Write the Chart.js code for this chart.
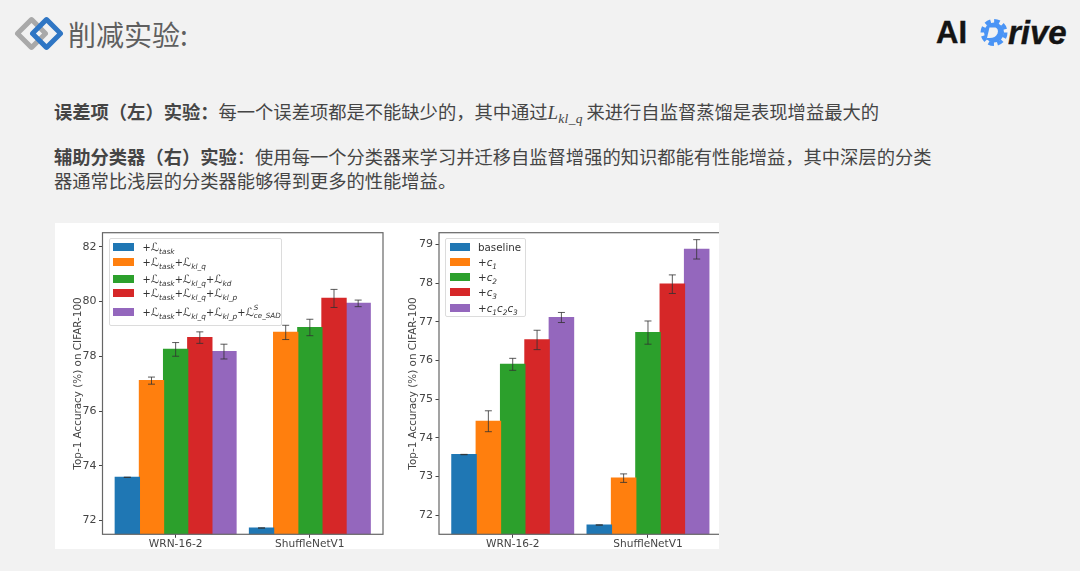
<!DOCTYPE html>
<html>
<head>
<meta charset="utf-8">
<title>削减实验</title>
<script src="https://cdn.jsdelivr.net/npm/chart.js@4"></script>
<style>
  html, body { margin: 0; padding: 0; background: #f2f2f2; }
  #slide { position: relative; width: 1080px; height: 571px; overflow: hidden; background: #f2f2f2;
           font-family: "Noto Sans CJK SC", sans-serif; filter: blur(0.6px); }
  .abs { position: absolute; }
  .diamond { position: absolute; width: 15px; height: 15px; border-radius: 3px; border: 5px solid; transform: rotate(45deg); }
  #title { left: 68px; top: 13px; font-size: 28px; line-height: 42px; color: #5f5f5f; white-space: nowrap; }
  .para { left: 54px; font-size: 18.3px; line-height: 24px; color: #454545; white-space: nowrap; }
  .para b { font-weight: 700; }
  .formula { font-family: "Liberation Serif", serif; font-style: italic; font-size: 19px; margin-right: 3.5px; }
  .formula sub { font-size: 13.5px; vertical-align: -4px; line-height: 0; letter-spacing: 0.4px; }
  #aiText, #riveText { font-family: "Liberation Sans", sans-serif; font-weight: 700; color: #141414; font-size: 31px; line-height: 36px; white-space: nowrap; -webkit-text-stroke: 0.4px #141414; }
  #riveText { font-size: 33px; }
  #panel { left: 55px; top: 223px; width: 664px; height: 326px; background: #fff; overflow: hidden; }
  #panel canvas { position: absolute; top: 0; }
  .legend { position: absolute; background: rgba(255,255,255,.85); border: 1px solid #dcdcdc; border-radius: 2px; box-sizing: border-box;
            font-family: "DejaVu Sans", sans-serif; color: #333; font-size: 10.3px; }
  #leftLegend { font-size: 9.8px; }
  .row { position: absolute; white-space: nowrap; line-height: 12px; height: 12px; }
  .row i.sw { position: absolute; left: 3.5px; top: 2px; width: 20.5px; height: 8px; }
  .row span.t { position: absolute; top: 0; }
  .row em { font-style: italic; }
  .row em.L { font-size: 11.6px; }
  .row sub { font-size: 7.4px; font-style: italic; vertical-align: -3px; line-height: 0; }
  .stack { display: inline-block; position: relative; width: 27px; height: 12px; vertical-align: top; }
  .stack span { position: absolute; left: 0; font-size: 7.2px; font-style: italic; line-height: 8px; }
</style>
</head>
<body>
<div id="slide">
  <div class="diamond" style="left:18.5px;top:20.5px;border-color:#a9a9a9"></div>
  <div class="diamond" style="left:34.2px;top:20.5px;border-color:#2f76c4"></div>
  <div id="title" class="abs">削减实验:</div>

  <div id="aiText" class="abs" style="left:936px;top:15px">AI</div>
  <svg class="abs" style="left:980px;top:16px" width="30" height="34" viewBox="0 0 30 34">
    <circle cx="14" cy="16.5" r="10" fill="#4a94f5"/>
    <circle cx="14" cy="16.5" r="11.5" fill="none" stroke="#4a94f5" stroke-width="4" stroke-dasharray="5.5 3.5"/>
    <path d="M9.5 11.5 L15.5 11.5 Q19 13 17.5 17.5 Q15.5 22 9.5 22 L7 22 Z" fill="#f2f2f2"/>
  </svg>
  <div id="riveText" class="abs" style="left:1008px;top:15px"><i>rive</i></div>

  <div class="abs para" style="top:98.5px"><b>误差项（左）实验：</b>每一个误差项都是不能缺少的，其中通过<span class="formula">L<sub>kl_q</sub></span>来进行自监督蒸馏是表现增益最大的</div>
  <div class="abs para" style="top:144px"><b>辅助分类器（右）实验</b>：使用每一个分类器来学习并迁移自监督增强的知识都能有性能增益，其中深层的分类</div>
  <div class="abs para" style="top:167.5px">器通常比浅层的分类器能够得到更多的性能增益。</div>

  <div id="panel" class="abs">
    <canvas id="leftChart" width="335" height="326" style="left:0"></canvas>
    <canvas id="rightChart" width="340" height="326" style="left:335px"></canvas>
    <div id="leftLegend" class="legend" style="left:53.5px;top:14.5px;width:173.5px;height:88.5px"></div>
    <div id="rightLegend" class="legend" style="left:390px;top:14.5px;width:80.5px;height:79.5px"></div>
  </div>
</div>

<script>
// Shared x axis: matplotlib style bars at 0 and 1, width 0.18
const categories = ['WRN-16-2', 'ShuffleNetV1'];
const categoryX = [0, 1];

const seriesColors = ['#1f77b4', '#ff7f0e', '#2ca02c', '#d62728', '#9467bd'];

// Left chart: loss terms
const leftTicks = [72, 74, 76, 78, 80, 82];
const leftTask = [73.58, 71.73];
const leftKlq = [77.11, 78.87];
const leftKd = [78.25, 79.05];
const leftKlp = [78.68, 80.11];
const leftSad = [78.17, 79.93];
const leftTaskErr = [0.005, 0.005];
const leftKlqErr = [0.13, 0.26];
const leftKdErr = [0.25, 0.30];
const leftKlpErr = [0.21, 0.33];
const leftSadErr = [0.27, 0.12];
const L = '<em class="L">ℒ</em>';
const leftLabels = [
    '+' + L + '<sub>task</sub>',
    '+' + L + '<sub>task</sub>+' + L + '<sub>kl_q</sub>',
    '+' + L + '<sub>task</sub>+' + L + '<sub>kl_q</sub>+' + L + '<sub>kd</sub>',
    '+' + L + '<sub>task</sub>+' + L + '<sub>kl_q</sub>+' + L + '<sub>kl_p</sub>',
    '+' + L + '<sub>task</sub>+' + L + '<sub>kl_q</sub>+' + L + '<sub>kl_p</sub>+' + L +
        '<span class="stack"><span style="top:-2px">S</span><span style="top:6px">ce_SAD</span></span>',
];

// Right chart: auxiliary classifiers
const rightTicks = [72, 73, 74, 75, 76, 77, 78, 79];
const rightBaseline = [73.57, 71.75];
const rightC1 = [74.43, 72.96];
const rightC2 = [75.90, 76.72];
const rightC3 = [76.53, 77.97];
const rightC123 = [77.11, 78.87];
const rightBaselineErr = [0.005, 0.005];
const rightC1Err = [0.27, 0.11];
const rightC2Err = [0.155, 0.30];
const rightC3Err = [0.25, 0.24];
const rightC123Err = [0.13, 0.25];
const rightLabels = [
    'baseline',
    '+<em>c</em><sub>1</sub>',
    '+<em>c</em><sub>2</sub>',
    '+<em>c</em><sub>3</sub>',
    '+<em>c</em><sub>1</sub><em>c</em><sub>2</sub><em>c</em><sub>3</sub>',
];

const FONT_FAMILY = '"DejaVu Sans", sans-serif';
const INK = '#444444';

// Draws the axes box and the error bars on top of the bars
const framePlugin = {
    id: 'frameAndErrors',
    afterDatasetsDraw(chart, args, opts) {
        const { ctx, chartArea, scales } = chart;
        ctx.save();
        ctx.strokeStyle = 'rgba(50,50,50,0.8)';
        ctx.lineWidth = 1;
        chart.data.datasets.forEach(function (ds, i) {
            chart.getDatasetMeta(i).data.forEach(function (bar, j) {
                const v = ds.data[j].y;
                const top = scales.y.getPixelForValue(v + opts.errors[i][j]);
                const bottom = scales.y.getPixelForValue(v - opts.errors[i][j]);
                ctx.beginPath();
                ctx.moveTo(bar.x, top);
                ctx.lineTo(bar.x, bottom);
                ctx.moveTo(bar.x - 3.5, top);
                ctx.lineTo(bar.x + 3.5, top);
                ctx.moveTo(bar.x - 3.5, bottom);
                ctx.lineTo(bar.x + 3.5, bottom);
                ctx.stroke();
            });
        });
        ctx.strokeStyle = '#666666';
        ctx.lineWidth = 1.2;
        ctx.strokeRect(chartArea.left, chartArea.top, chartArea.width, chartArea.height);
        ctx.restore();
    },
};

function makeChart(id, series, errors, names, yTicks, yMin, yMax, axisWidth, rightPad) {
    return new Chart(document.getElementById(id), {
        type: 'bar',
        data: {
            datasets: series.map(function (values, i) {
                return {
                    label: names[i],
                    data: values.map(function (v, j) { return { x: categoryX[j], y: v }; }),
                    backgroundColor: seriesColors[i],
                    borderWidth: 0,
                    // closes the hairline seams between neighbouring bars
                    inflateAmount: 0.6,
                };
            }),
        },
        options: {
            responsive: false,
            animation: false,
            devicePixelRatio: 1,
            barPercentage: 1,
            categoryPercentage: 0.9,
            layout: { padding: { top: 9.7, left: 0, right: rightPad, bottom: 0 } },
            plugins: {
                legend: { display: false },
                tooltip: { enabled: false },
                frameAndErrors: { errors: errors },
            },
            scales: {
                x: {
                    type: 'linear',
                    offset: false,
                    min: -0.545,
                    max: 1.545,
                    grid: { drawOnChartArea: false, tickLength: 3.5, color: INK, offset: false },
                    border: { display: false },
                    afterBuildTicks(scale) {
                        scale.ticks = categoryX.map(function (v) { return { value: v }; });
                    },
                    afterFit(scale) { scale.height = 14.7; },
                    ticks: {
                        autoSkip: false,
                        maxRotation: 0,
                        padding: 0,
                        color: INK,
                        font: { family: FONT_FAMILY, size: 10.6 },
                        callback(value) { return categories[categoryX.indexOf(value)]; },
                    },
                },
                y: {
                    min: yMin,
                    max: yMax,
                    grid: { drawOnChartArea: false, tickLength: 3.5, color: INK },
                    border: { display: false },
                    afterBuildTicks(scale) {
                        scale.ticks = yTicks.map(function (v) { return { value: v }; });
                    },
                    afterFit(scale) { scale.width = axisWidth; },
                    ticks: { autoSkip: false, padding: 2.5, color: INK, font: { family: FONT_FAMILY, size: 11 } },
                    title: {
                        display: true,
                        text: 'Top-1 Accuracy (%) on CIFAR-100',
                        color: INK,
                        font: { family: FONT_FAMILY, size: 10.4 },
                        padding: { top: 17, bottom: 0 },
                    },
                },
            },
        },
        plugins: [framePlugin],
    });
}

// Legend rows are HTML so the subscripts stay real text
function makeLegend(id, labels, rowTops, textLeft) {
    const box = document.getElementById(id);
    labels.forEach(function (label, i) {
        const row = document.createElement('div');
        row.className = 'row';
        row.style.top = rowTops[i] + 'px';
        row.style.left = '0';
        row.innerHTML = '<i class="sw" style="background:' + seriesColors[i] + '"></i>' +
            '<span class="t" style="left:' + textLeft + 'px">' + label + '</span>';
        box.appendChild(row);
    });
}

const plainLeftNames = ['task', 'task+kl_q', 'task+kl_q+kd', 'task+kl_q+kl_p', 'task+kl_q+kl_p+ce_SAD'];
const plainRightNames = ['baseline', '+c1', '+c2', '+c3', '+c1c2c3'];

makeChart('leftChart',
    [leftTask, leftKlq, leftKd, leftKlp, leftSad],
    [leftTaskErr, leftKlqErr, leftKdErr, leftKlpErr, leftSadErr],
    plainLeftNames, leftTicks, 71.5, 82.51, 47.5, 7);
makeChart('rightChart',
    [rightBaseline, rightC1, rightC2, rightC3, rightC123],
    [rightBaselineErr, rightC1Err, rightC2Err, rightC3Err, rightC123Err],
    plainRightNames, rightTicks, 71.51, 79.3, 49, 8.3);

makeLegend('leftLegend', leftLabels, [2.5, 17, 34, 48.5, 67.5], 33);
makeLegend('rightLegend', rightLabels, [2, 17, 32.5, 47.5, 63], 32);
</script>
</body>
</html>
